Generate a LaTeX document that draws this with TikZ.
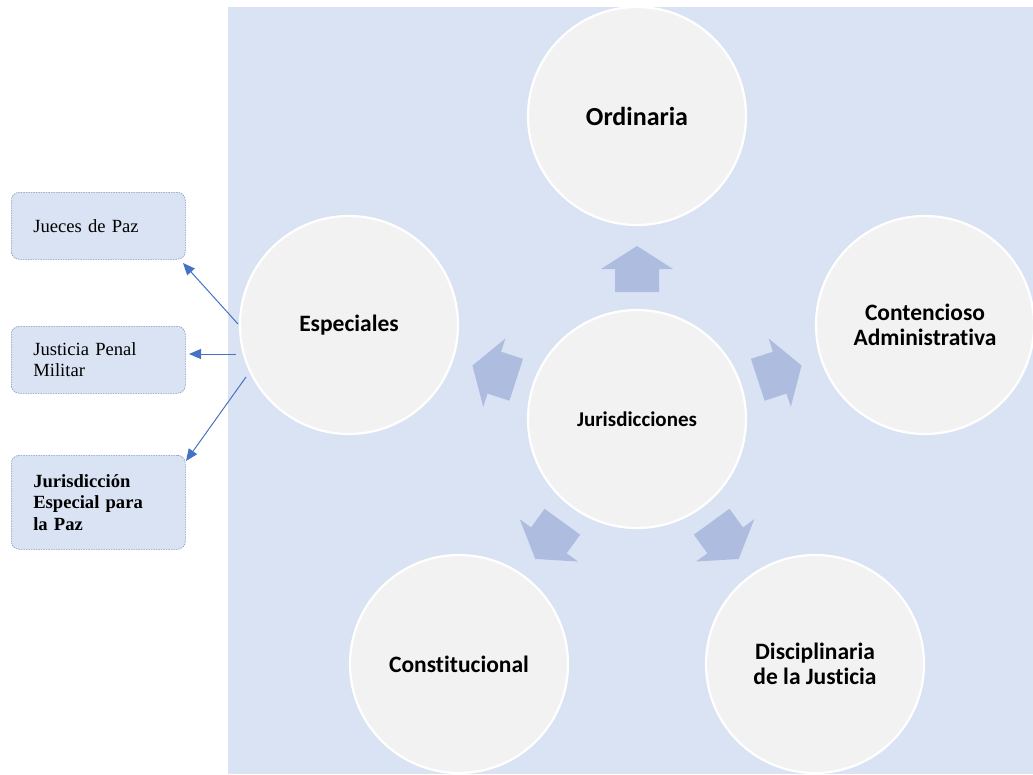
\documentclass[tikz,border=0pt]{standalone}
\usepackage{fontspec}
\setmainfont{Liberation Serif}
\newfontfamily\calib[Ligatures=NoCommon]{Carlito}
\usetikzlibrary{arrows.meta}
\definecolor{bgblue}{RGB}{218,227,243}
\definecolor{discfill}{RGB}{242,242,242}
\definecolor{blockblue}{RGB}{174,188,223}
\definecolor{boxline}{RGB}{125,148,190}
\definecolor{linkblue}{RGB}{68,114,196}

\begin{document}
\begin{tikzpicture}[x=1pt,y=-1pt,
  disc/.style={circle, fill=discfill, draw=white, line width=2.2pt,
    minimum size=218pt, inner sep=0pt, align=center,
    font=\calib\bfseries\fontsize{23.5}{25}\selectfont},
  sidebox/.style={rectangle, rounded corners=8pt, fill=bgblue, draw=boxline,
    line width=0.6pt, dash pattern=on 1.5pt off 1pt, text width=130pt,
    inner xsep=22pt, inner ysep=0pt, align=left, anchor=north west,
    font=\fontsize{18.6}{21}\selectfont},
  link/.style={draw=linkblue, line width=1pt, -{Triangle[length=12pt,width=10pt]}},
  blockarr/.pic={\fill[blockblue] (-22pt,127pt) -- (-22pt,150pt) -- (-36pt,150pt)
    -- (0pt,173pt) -- (36pt,150pt) -- (22pt,150pt) -- (22pt,127pt) -- cycle;}
]
\useasboundingbox (0,0) rectangle (1033,774);
\fill[bgblue] (228,7) rectangle (1033,774);

% central hub and the five jurisdictions around it
\node[disc, font=\calib\bfseries\fontsize{21}{23}\selectfont] (J) at (637,419) {Jurisdicciones};
\node[disc, font=\calib\bfseries\fontsize{26}{28}\selectfont] (ord) at (637,116) {Ordinaria};
\node[disc] (cont) at (925,325) {Contencioso\\Administrativa};
\node[disc] (esp) at (349,325) {Especiales};
\node[disc] (const) at (459,664) {Constitucional};
\node[disc] (disc) at (815,664) {Disciplinaria\\de la Justicia};

% block arrows pointing outward from the hub
\pic at (J.center) {blockarr};
\pic[rotate=-72] at (J.center) {blockarr};
\pic[rotate=72] at (J.center) {blockarr};
\pic[rotate=144] at (J.center) {blockarr};
\pic[rotate=-144] at (J.center) {blockarr};

% special jurisdictions
\node[sidebox, minimum height=67pt] (b1) at (11,192) {Jueces de Paz};
\node[sidebox, minimum height=67pt] (b2) at (11,326) {Justicia Penal\\Militar};
\node[sidebox, minimum height=94pt, font=\bfseries\fontsize{18.6}{21.5}\selectfont] (b3) at (11,455)
  {Jurisdicción\\Especial para\\la Paz};

\coordinate (e1) at (238,324);
\coordinate (e2) at (236,354);
\coordinate (e3) at (246,377);
\coordinate (t1) at (183,263);
\coordinate (t2) at (189,354);
\coordinate (t3) at (186,461);
\draw[link] (e1) -- (t1);
\draw[link] (e2) -- (t2);
\draw[link] (e3) -- (t3);
\end{tikzpicture}
\end{document}
